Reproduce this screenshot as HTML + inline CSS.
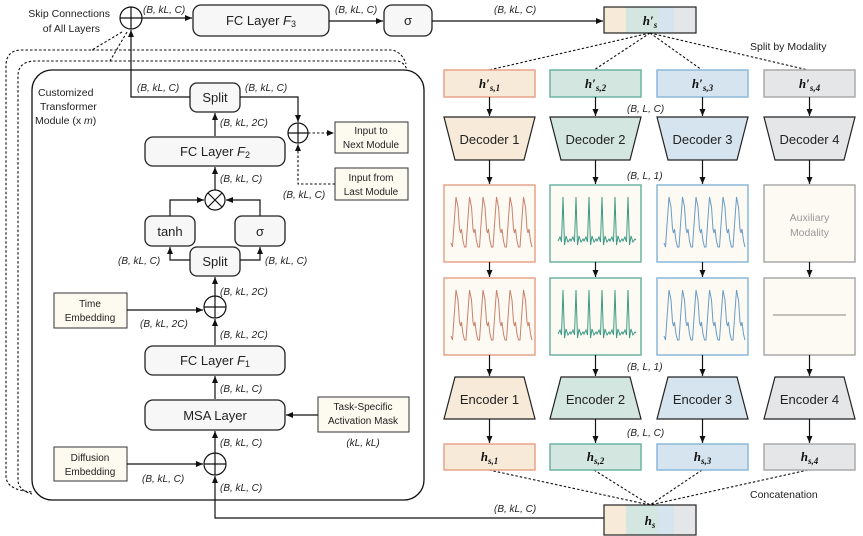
<!DOCTYPE html>
<html><head><meta charset="utf-8"><style>
html,body{margin:0;padding:0;background:#fff;}
svg{display:block;font-family:"Liberation Sans",sans-serif;}
.b{fill:#f7f7f7;stroke:#222;stroke-width:1.3;}
.e{fill:#fdfaf0;stroke:#333;stroke-width:1;}
.t{font-size:13px;fill:#222;text-anchor:middle;}
.s{font-size:10px;fill:#222;}
.l{stroke:#111;stroke-width:1.2;fill:none;}
.d{stroke:#111;stroke-width:1.1;fill:none;stroke-dasharray:2.5,2;}
.m{font-family:"Liberation Serif",serif;font-weight:bold;font-style:italic;font-size:13px;text-anchor:middle;fill:#111;}
</style></head><body>
<svg id="sv" width="863" height="536" viewBox="0 0 863 536" xmlns="http://www.w3.org/2000/svg">
<defs><marker id="a" markerWidth="8" markerHeight="8" refX="7" refY="4" orient="auto" markerUnits="userSpaceOnUse"><path d="M0,1 L7,4 L0,7z" fill="#111"/></marker></defs>

<!-- outer dotted module copies -->
<path class="d" d="M122,32 L92,50 L22,50 Q6,50 6,66 L6,476 Q6,490 32,492" />
<path class="d" d="M127,32 L110,61 L36,61 Q18,61 18,76 L18,480 Q18,490 32,494" />
<path class="d" d="M92,50 L392,50 Q402,52 406,64" />
<path class="d" d="M110,61 L398,61 Q405,63 407,70" />
<!-- main module -->
<rect x="32" y="70" width="392" height="430" rx="20" fill="none" stroke="#111" stroke-width="1.3"/>
<text class="s" x="38" y="96" style="font-size:10.5px">Customized</text>
<text class="s" x="40" y="110" style="font-size:10.5px">Transformer</text>
<text class="s" x="35" y="124" style="font-size:10.5px">Module (x <tspan font-style="italic">m</tspan>)</text>

<!-- top row -->
<text class="s" x="110" y="17" text-anchor="end" style="font-size:10.5px">Skip Connections</text>
<text class="s" x="100" y="32" text-anchor="end" style="font-size:10.5px">of All Layers</text>
<circle cx="131" cy="18" r="11" fill="#fff" stroke="#111" stroke-width="1.2"/>
<path class="l" d="M120,18 H142 M131,7 V29"/>
<path class="l" d="M142,18 H192" marker-end="url(#a)"/>
<text class="s" x="143" y="13" font-style="italic">(B, kL, C)</text>
<rect class="b" x="193" y="5" width="136" height="31" rx="8"/>
<text class="t" x="261" y="25">FC Layer <tspan font-style="italic">F</tspan><tspan font-size="9" dy="2">3</tspan></text>
<path class="l" d="M329,21 H383" marker-end="url(#a)"/>
<text class="s" x="335" y="13" font-style="italic">(B, kL, C)</text>
<rect class="b" x="384" y="5" width="48" height="31" rx="8"/>
<text class="t" x="408" y="25">σ</text>
<path class="l" d="M432,21 H603" marker-end="url(#a)"/>
<text class="s" x="494" y="13" font-style="italic">(B, kL, C)</text>
<rect x="604" y="7" width="22" height="26" fill="#f7ead8"/><rect x="626" y="7" width="32" height="26" fill="#d4e6e0"/><rect x="658" y="7" width="16" height="26" fill="#d6e4ef"/><rect x="674" y="7" width="22" height="26" fill="#e5e6e8"/>
<rect x="604" y="7" width="92" height="26" fill="none" stroke="#222" stroke-width="1.2"/>
<text class="m" x="650" y="25">h′<tspan font-size="9" dy="3">s</tspan></text>
<path class="d" d="M650,33 L489,70 M650,33 L594,70 M650,33 L702,70 M650,33 L808,70"/>
<text class="s" x="750" y="50" style="font-size:10.5px">Split by Modality</text>

<!-- split top -->
<rect class="b" x="190" y="83" width="50" height="29" rx="7"/>
<text class="t" x="215" y="102">Split</text>
<path class="l" d="M190,97 H131 V30" marker-end="url(#a)"/>
<text class="s" x="137" y="91" font-style="italic">(B, kL, C)</text>
<path class="l" d="M240,97 H298 V122" marker-end="url(#a)"/>
<text class="s" x="245" y="91" font-style="italic">(B, kL, C)</text>
<circle cx="298" cy="133" r="10" fill="#fff" stroke="#111" stroke-width="1.2"/>
<path class="l" d="M288,133 H308 M298,123 V143"/>
<path class="d" d="M308,133 H334" marker-end="url(#a)"/>
<rect class="e" x="335" y="122" width="73" height="31"/>
<text class="s" x="371" y="134" text-anchor="middle">Input to</text>
<text class="s" x="371" y="148" text-anchor="middle">Next Module</text>
<rect class="e" x="335" y="168" width="73" height="32"/>
<text class="s" x="371" y="181" text-anchor="middle">Input from</text>
<text class="s" x="371" y="195" text-anchor="middle">Last Module</text>
<path class="d" d="M335,184 H298 V144" marker-end="url(#a)"/>
<text class="s" x="283" y="198" font-style="italic">(B, kL, C)</text>

<path class="l" d="M215,136 V113" marker-end="url(#a)"/>
<text class="s" x="220" y="126" font-style="italic">(B, kL, 2C)</text>
<rect class="b" x="145" y="137" width="140" height="29" rx="8"/>
<text class="t" x="215" y="156">FC Layer <tspan font-style="italic">F</tspan><tspan font-size="9" dy="2">2</tspan></text>
<path class="l" d="M215,190 V167" marker-end="url(#a)"/>
<text class="s" x="220" y="182" font-style="italic">(B, kL, C)</text>
<circle cx="215" cy="200" r="10" fill="#fff" stroke="#111" stroke-width="1.2"/>
<path class="l" d="M208,193 L222,207 M222,193 L208,207"/>
<path class="l" d="M170,216 V200 H204" marker-end="url(#a)"/>
<path class="l" d="M260,216 V200 H226" marker-end="url(#a)"/>
<rect class="b" x="145" y="216" width="50" height="30" rx="7"/>
<text class="t" x="170" y="236">tanh</text>
<rect class="b" x="235" y="216" width="50" height="30" rx="7"/>
<text class="t" x="260" y="236">σ</text>
<rect class="b" x="190" y="247" width="50" height="29" rx="7"/>
<text class="t" x="215" y="266">Split</text>
<path class="l" d="M190,260 H170 V247" marker-end="url(#a)"/>
<path class="l" d="M240,260 H260 V247" marker-end="url(#a)"/>
<text class="s" x="118" y="264" font-style="italic">(B, kL, C)</text>
<text class="s" x="265" y="264" font-style="italic">(B, kL, C)</text>
<path class="l" d="M215,296 V277" marker-end="url(#a)"/>
<text class="s" x="220" y="295" font-style="italic">(B, kL, 2C)</text>
<circle cx="215" cy="307" r="11" fill="#fff" stroke="#111" stroke-width="1.2"/>
<path class="l" d="M204,307 H226 M215,296 V318"/>
<rect class="e" x="54" y="293" width="73" height="35"/>
<text class="s" x="90" y="307" text-anchor="middle">Time</text>
<text class="s" x="90" y="321" text-anchor="middle">Embedding</text>
<path class="l" d="M127,310 H203" marker-end="url(#a)"/>
<text class="s" x="140" y="327" font-style="italic">(B, kL, 2C)</text>
<path class="l" d="M215,345 V319" marker-end="url(#a)"/>
<text class="s" x="220" y="338" font-style="italic">(B, kL, 2C)</text>
<rect class="b" x="145" y="346" width="140" height="29" rx="8"/>
<text class="t" x="215" y="365">FC Layer <tspan font-style="italic">F</tspan><tspan font-size="9" dy="2">1</tspan></text>
<path class="l" d="M215,399 V376" marker-end="url(#a)"/>
<text class="s" x="220" y="392" font-style="italic">(B, kL, C)</text>
<rect class="b" x="145" y="400" width="140" height="30" rx="8"/>
<text class="t" x="215" y="420">MSA Layer</text>
<rect class="e" x="318" y="397" width="91" height="35"/>
<text class="s" x="363" y="410" text-anchor="middle">Task-Specific</text>
<text class="s" x="363" y="424" text-anchor="middle">Activation Mask</text>
<text class="s" x="363" y="446" text-anchor="middle" font-style="italic">(kL, kL)</text>
<path class="l" d="M318,415 H286" marker-end="url(#a)"/>
<path class="l" d="M215,453 V431" marker-end="url(#a)"/>
<text class="s" x="220" y="446" font-style="italic">(B, kL, C)</text>
<circle cx="215" cy="464" r="11" fill="#fff" stroke="#111" stroke-width="1.2"/>
<path class="l" d="M204,464 H226 M215,453 V475"/>
<rect class="e" x="54" y="447" width="73" height="34"/>
<text class="s" x="90" y="461" text-anchor="middle">Diffusion</text>
<text class="s" x="90" y="475" text-anchor="middle">Embedding</text>
<path class="l" d="M127,464 H203" marker-end="url(#a)"/>
<text class="s" x="142" y="482" font-style="italic">(B, kL, C)</text>
<text class="s" x="220" y="491" font-style="italic">(B, kL, C)</text>
<path class="l" d="M604,518 H215 V476" marker-end="url(#a)"/>
<text class="s" x="494" y="512" font-style="italic">(B, kL, C)</text>
<rect x="604" y="505" width="22" height="30" fill="#f7ead8"/><rect x="626" y="505" width="32" height="30" fill="#d4e6e0"/><rect x="658" y="505" width="16" height="30" fill="#d6e4ef"/><rect x="674" y="505" width="22" height="30" fill="#e5e6e8"/>
<rect x="604" y="505" width="92" height="30" fill="none" stroke="#222" stroke-width="1.2"/>
<text class="m" x="650" y="525">h<tspan font-size="9" dy="3">s</tspan></text>
<path class="d" d="M489,470 L650,505 M594,470 L650,505 M702,470 L650,505 M808,470 L650,505"/>
<text class="s" x="750" y="498" style="font-size:10.5px">Concatenation</text>

<text class="s" x="627" y="112" font-style="italic">(B, L, C)</text>
<text class="s" x="627" y="179" font-style="italic">(B, L, 1)</text>
<text class="s" x="627" y="370" font-style="italic">(B, L, 1)</text>
<text class="s" x="627" y="436" font-style="italic">(B, L, C)</text>
<g id="cols"></g>
</svg>
<script>
var cols=[{x:444,c:'#f7ead8',s:'#e8a48a',w:'#c8826c',n:1,t:'p'},{x:550,c:'#d4e6e0',s:'#6db3a3',w:'#3e9a85',n:2,t:'e'},{x:657,c:'#d6e4ef',s:'#8ab8d8',w:'#6a9cc4',n:3,t:'p'},{x:764,c:'#e5e6e8',s:'#aaa',w:'#888',n:4,t:'a'}];
var h='';
function wave(x0,y0,t,col){
 var p=[];
 if(t=='p'){var bx=x0+7;p.push([bx,y0+58]);for(var i=0;i<6;i++){var c=bx+i*13.5;p.push([c+1.5,y0+62],[c+3,y0+40],[c+5,y0+12],[c+7,y0+22],[c+8.5,y0+44],[c+9.5,y0+48],[c+10.5,y0+44],[c+12,y0+56],[c+13.5,y0+62]);}
 }else{var bx=x0+8;for(var i=0;i<6;i++){var c=bx+i*13;p.push([c,y0+56],[c+2,y0+52],[c+3.5,y0+57],[c+5,y0+12],[c+6.5,y0+60],[c+8,y0+51],[c+10,y0+57],[c+12,y0+54]);}p.push([x0+86,y0+55]);}
 return '<polyline points="'+p.map(function(q){return q.join(',')}).join(' ')+'" fill="none" stroke="'+col+'" stroke-width="1"/>';
}
cols.forEach(function(o){var x=o.x,cx=x+45.5;
 h+='<rect x="'+x+'" y="70" width="91" height="27" fill="'+o.c+'" stroke="'+o.s+'" stroke-width="1.5"/>';
 h+='<text class="m" x="'+cx+'" y="88">h′<tspan font-size="9" dy="3">s,'+o.n+'</tspan></text>';
 h+='<path class="l" d="M'+cx+',97 V116" marker-end="url(#a)"/>';
 h+='<path d="M'+x+',117 H'+(x+91)+' L'+(x+80)+',160 H'+(x+11)+'Z" fill="'+o.c+'" stroke="#222" stroke-width="1.2"/>';
 h+='<text class="t" x="'+cx+'" y="144">Decoder '+o.n+'</text>';
 h+='<path class="l" d="M'+cx+',160 V184" marker-end="url(#a)"/>';
 [185,278].forEach(function(y,k){h+='<rect x="'+x+'" y="'+y+'" width="91" height="77" fill="#fdfaf4" stroke="'+o.s+'" stroke-width="1.5"/>';
  if(o.t=='a'){ if(k==0){h+='<text x="'+cx+'" y="221" font-size="10.5" fill="#999" text-anchor="middle">Auxiliary</text><text x="'+cx+'" y="236" font-size="10.5" fill="#999" text-anchor="middle">Modality</text>';}else{h+='<line x1="'+(x+9)+'" y1="315" x2="'+(x+82)+'" y2="315" stroke="#888" stroke-width="1"/>';}}
  else h+=wave(x,y,o.t,o.w);});
 h+='<path class="l" d="M'+cx+',262 V277" marker-end="url(#a)"/>';
 h+='<path class="l" d="M'+cx+',355 V376" marker-end="url(#a)"/>';
 h+='<path d="M'+(x+11)+',377 H'+(x+80)+' L'+(x+91)+',419 H'+x+'Z" fill="'+o.c+'" stroke="#222" stroke-width="1.2"/>';
 h+='<text class="t" x="'+cx+'" y="404">Encoder '+o.n+'</text>';
 h+='<path class="l" d="M'+cx+',419 V443" marker-end="url(#a)"/>';
 h+='<rect x="'+x+'" y="444" width="91" height="26" fill="'+o.c+'" stroke="'+o.s+'" stroke-width="1.5"/>';
 h+='<text class="m" x="'+cx+'" y="461">h<tspan font-size="9" dy="3">s,'+o.n+'</tspan></text>';
});
document.getElementById('cols').innerHTML=h;
</script>
</body></html>
